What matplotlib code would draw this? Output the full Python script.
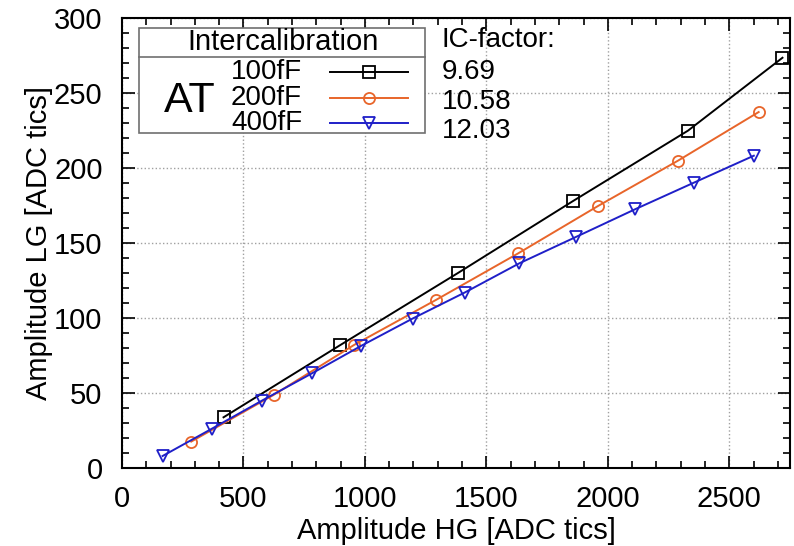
import matplotlib
matplotlib.use("Agg")
import matplotlib.pyplot as plt
from matplotlib.lines import Line2D
from matplotlib.patches import Rectangle
from matplotlib.ticker import MultipleLocator

plt.rcParams['font.family'] = ['Liberation Sans', 'DejaVu Sans']

# data
x_100 = [418, 897, 1385, 1857, 2330, 2719]
y_100 = [33.8, 81.8, 130.2, 178.0, 224.9, 273.5]
x_200 = [285, 624, 955, 1292, 1631, 1960, 2289, 2621]
y_200 = [17.6, 48.7, 82.0, 112.0, 143.1, 174.7, 204.9, 237.3]
x_400 = [167, 370, 576, 782, 983, 1196, 1410, 1635, 1871, 2111, 2354, 2601]
y_400 = [8.0, 26.2, 44.9, 63.1, 81.3, 99.6, 116.9, 136.4, 154.2, 172.4, 190.2, 208.2]

labels = ["100fF", "200fF", "400fF"]
ic_factors = ["9.69", "10.58", "12.03"]
colors = ["black", "#e8652a", "#1f1fc8"]
markers = ["s", "o", "v"]

W, H = 794, 546
fig = plt.figure(figsize=(W / 100, H / 100), dpi=100)
ax = fig.add_axes([122 / W, 1 - 468 / H, (790 - 122) / W, (468 - 18) / H])


def fx(px):
    return px / W


def fy(py):
    return 1 - py / H


series = [(x_100, y_100), (x_200, y_200), (x_400, y_400)]
for (xs, ys), c, m in zip(series, colors, markers):
    ax.plot(xs, ys, color=c, lw=1.4, marker=m, ms=8, mfc='none', mec=c, mew=1.3)

ax.set_xlim(0, 2750)
ax.set_ylim(0, 300)
ax.xaxis.set_major_locator(MultipleLocator(500))
ax.xaxis.set_minor_locator(MultipleLocator(100))
ax.yaxis.set_major_locator(MultipleLocator(50))
ax.yaxis.set_minor_locator(MultipleLocator(10))
ax.tick_params(which='both', direction='in', top=True, right=True, width=1.2, labelsize=21)
ax.tick_params(which='major', length=9)
ax.tick_params(which='minor', length=5)
ax.tick_params(axis='x', pad=12)
ax.tick_params(axis='y', pad=14)
ax.grid(True, which='major', color='#a0a0a0', ls=':', lw=1)
for s in ax.spines.values():
    s.set_linewidth(1.5)

ax.set_xlabel("Amplitude HG [ADC tics]", fontsize=21, labelpad=3)
ax.set_ylabel("Amplitude LG [ADC tics]", fontsize=21, labelpad=1)

# custom legend box
bx0, bx1, by0, by1, bsep = 139, 425, 28, 133, 57
fig.patches.append(Rectangle((fx(bx0), fy(by1)), fx(bx1) - fx(bx0), fy(by0) - fy(by1),
                             transform=fig.transFigure, fc='white', ec='#707070', lw=1.2, zorder=5))
fig.lines.append(Line2D([fx(bx0), fx(bx1)], [fy(bsep), fy(bsep)], transform=fig.transFigure,
                        color='#707070', lw=1.2, zorder=6))
fig.text(fx(283), fy(42), "Intercalibration", fontsize=21, ha='center', va='center', zorder=7)
fig.text(fx(190), fy(101), "AT", fontsize=31, ha='center', va='center', zorder=7)

row_y = [72, 98, 123]
ic_y = [72, 102, 131]
for lab, c, m, ry, ic, iy in zip(labels, colors, markers, row_y, ic_factors, ic_y):
    fig.text(fx(302), fy(ry), lab, fontsize=20, ha='right', va='center', zorder=7)
    fig.lines.append(Line2D([fx(330), fx(408)], [fy(ry), fy(ry)], transform=fig.transFigure,
                            color=c, lw=1.4, zorder=7))
    fig.lines.append(Line2D([fx(369)], [fy(ry)], transform=fig.transFigure, color=c,
                            marker=m, ms=8, mfc='none', mec=c, mew=1.3, zorder=7))
    fig.text(fx(442), fy(iy), ic, fontsize=20, ha='left', va='center', zorder=7)

fig.text(fx(442), fy(40), "IC-factor:", fontsize=20, ha='left', va='center')

fig.savefig("out.png", dpi=100)
